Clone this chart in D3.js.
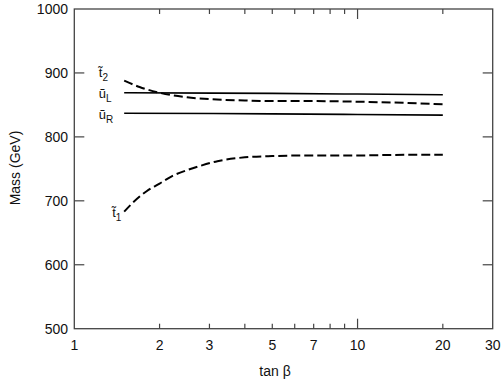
<!DOCTYPE html>
<html><head><meta charset="utf-8">
<script src="https://cdn.jsdelivr.net/npm/d3@7"></script>
<style>body{margin:0;background:#fff}svg{font-family:"Liberation Sans",Arial,sans-serif}</style>
</head><body><svg id="c" width="501" height="381"></svg>
<script>
const xTickLabels = [1,2,3,5,7,10,20,30];
const xMinorTicks = [2,3,4,5,6,7,8,9,20];
const yTickLabels = [500,600,700,800,900,1000];
const t1 = [[1.5,683],[1.6,696],[1.8,715],[2,727],[2.2,738],[2.5,748],[2.8,755],[3.2,762],[4,768],[5,770],[7,771],[10,771],[15,772],[20,772]];
const t2 = [[1.5,888],[1.7,878],[2,869],[2.5,862],[3,859],[4,857],[5,856],[7,856],[10,855],[15,853],[20,851]];
const uL = [[1.5,869],[5,868],[10,867],[20,866]];
const uR = [[1.5,837],[5,836],[10,835],[20,834]];
const labels = [
  {base:"t\u0303", sub:"2", t:1.22, m:893},
  {base:"\u0169", sub:"L", t:1.22, m:861},
  {base:"\u0169", sub:"R", t:1.22, m:828},
  {base:"t\u0303", sub:"1", t:1.36, m:674}
];

const svg = d3.select("#c");
const L=74.3, R=492.7, T=9, B=328.7;
const x = d3.scaleLog().domain([1,30]).range([L,R]);
const y = d3.scaleLinear().domain([500,1000]).range([B,T]);
const axCol = "#444";

svg.append("rect").attr("x",L).attr("y",T).attr("width",R-L).attr("height",B-T)
  .attr("fill","none").attr("stroke",axCol).attr("stroke-width",1.3);

const g = svg.append("g");
xMinorTicks.forEach(v=>{
  g.append("line").attr("x1",x(v)).attr("x2",x(v)).attr("y1",B).attr("y2",B-5).attr("stroke",axCol).attr("stroke-width",1.2);
  g.append("line").attr("x1",x(v)).attr("x2",x(v)).attr("y1",T).attr("y2",T+5).attr("stroke",axCol).attr("stroke-width",1.2);
});
[10].forEach(v=>{
  g.append("line").attr("x1",x(v)).attr("x2",x(v)).attr("y1",B).attr("y2",B-10).attr("stroke",axCol).attr("stroke-width",1.2);
  g.append("line").attr("x1",x(v)).attr("x2",x(v)).attr("y1",T).attr("y2",T+10).attr("stroke",axCol).attr("stroke-width",1.2);
});
xTickLabels.forEach(v=>{
  g.append("text").attr("x",x(v)).attr("y",350).attr("text-anchor","middle")
    .attr("font-size",14).attr("fill","#111").text(v);
});
yTickLabels.forEach(v=>{
  if (v>500 && v<1000){
    g.append("line").attr("x1",L).attr("x2",L+10).attr("y1",y(v)).attr("y2",y(v)).attr("stroke",axCol).attr("stroke-width",1.2);
    g.append("line").attr("x1",R).attr("x2",R-10).attr("y1",y(v)).attr("y2",y(v)).attr("stroke",axCol).attr("stroke-width",1.2);
  }
  g.append("text").attr("x",68).attr("y",y(v)+5).attr("text-anchor","end")
    .attr("font-size",14).attr("fill","#111").text(v);
});

svg.append("text").attr("x",275).attr("y",376).attr("text-anchor","middle").attr("font-size",14).attr("fill","#111").text("tan β");
svg.append("text").attr("transform","translate(20,168) rotate(-90)").attr("text-anchor","middle").attr("font-size",14).attr("fill","#111").text("Mass (GeV)");

const line = d3.line().x(d=>x(d[0])).y(d=>y(d[1])).curve(d3.curveMonotoneX);
svg.append("path").datum(uL).attr("d",line).attr("fill","none").attr("stroke","#000").attr("stroke-width",1.6);
svg.append("path").datum(uR).attr("d",line).attr("fill","none").attr("stroke","#000").attr("stroke-width",1.6);
svg.append("path").datum(t2).attr("d",line).attr("fill","none").attr("stroke","#000").attr("stroke-width",2).attr("stroke-dasharray","9,4");
svg.append("path").datum(t1).attr("d",line).attr("fill","none").attr("stroke","#000").attr("stroke-width",2).attr("stroke-dasharray","9,4");

labels.forEach(l=>{
  const t = svg.append("text").attr("x",x(l.t)).attr("y",y(l.m)).attr("font-size",13).attr("fill","#111");
  t.append("tspan").text(l.base);
  t.append("tspan").attr("font-size",10).attr("dy",4).text(l.sub);
});
</script></body></html>
